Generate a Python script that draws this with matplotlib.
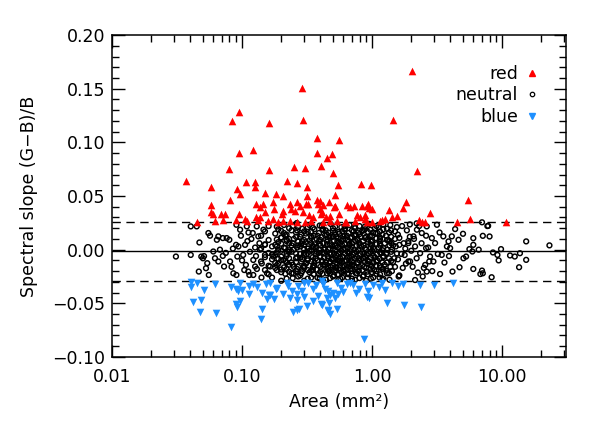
import matplotlib
matplotlib.use("Agg")
import matplotlib.pyplot as plt
from matplotlib.ticker import NullFormatter, MultipleLocator, LogLocator
from matplotlib.lines import Line2D
import numpy as np

plt.rcParams['font.family'] = ['DejaVu Sans']

# ---- data: (area mm^2, spectral slope) ----
red_points = [
    (0.037, 0.064), (0.058, 0.058), (0.084, 0.120), (0.095, 0.128), (0.094, 0.090),
    (0.079, 0.075), (0.121, 0.093), (0.161, 0.118), (0.161, 0.074), (0.107, 0.063),
    (0.126, 0.063), (0.126, 0.058), (0.092, 0.057), (0.097, 0.052), (0.081, 0.046),
    (0.058, 0.042), (0.150, 0.053), (0.183, 0.052), (0.206, 0.050), (0.251, 0.077),
    (0.222, 0.064), (0.266, 0.062), (0.288, 0.151), (0.294, 0.121), (0.380, 0.104),
    (0.560, 0.102), (0.375, 0.090), (0.490, 0.089), (0.450, 0.085), (0.405, 0.078),
    (0.305, 0.076), (2.02, 0.167), (1.44, 0.121), (0.500, 0.071), (2.23, 0.073),
    (0.545, 0.060), (0.823, 0.061), (0.980, 0.060), (0.318, 0.058), (0.318, 0.050),
    (0.520, 0.051), (5.45, 0.046), (1.83, 0.044), (0.375, 0.046), (0.398, 0.045),
    (0.470, 0.044), (0.638, 0.042), (0.677, 0.040), (0.731, 0.041), (0.833, 0.041),
    (0.910, 0.041), (0.953, 0.039), (1.358, 0.037), (1.722, 0.0385), (0.279, 0.041),
    (0.310, 0.043), (0.422, 0.042), (0.513, 0.0395), (1.00, 0.038), (1.549, 0.0316),
    (1.418, 0.030), (2.79, 0.034), (5.67, 0.029), (10.7, 0.026), (4.48, 0.026),
    (2.30, 0.028), (2.41, 0.026), (2.53, 0.0255), (0.353, 0.030), (0.403, 0.033),
    (0.440, 0.030), (0.475, 0.027), (0.541, 0.027), (0.619, 0.0255), (0.740, 0.027),
    (0.809, 0.030), (0.883, 0.0285), (0.995, 0.0255), (1.188, 0.0275), (1.259, 0.0285),
    (0.058, 0.035), (0.060, 0.033), (0.0686, 0.033), (0.074, 0.033), (0.094, 0.033),
    (0.128, 0.0425), (0.144, 0.0425), (0.1375, 0.0395), (0.150, 0.0355), (0.174, 0.0448),
    (0.176, 0.038), (0.202, 0.033), (0.208, 0.036), (0.237, 0.038), (0.256, 0.036),
    (0.2635, 0.044), (0.128, 0.030), (0.1375, 0.030), (0.174, 0.029), (0.0453, 0.026),
    (0.062, 0.027), (0.071, 0.028), (0.090, 0.0275), (0.1055, 0.0285), (0.1087, 0.027),
    (0.1334, 0.028), (0.159, 0.027), (0.190, 0.026), (0.208, 0.027), (0.234, 0.027),
    (0.2635, 0.026), (0.234, 0.0425), (0.324, 0.0425), (0.386, 0.0425), (0.519, 0.041),
    (0.927, 0.0425), (0.2965, 0.0355), (0.398, 0.038), (0.410, 0.035), (0.560, 0.033),
    (0.475, 0.0315), (0.330, 0.032), (0.762, 0.032), (0.883, 0.032), (0.305, 0.026),
    (0.337, 0.027), (0.422, 0.026), (0.631, 0.026), (0.910, 0.026), (1.153, 0.027),
]

blue_points = [
    (0.0403, -0.030), (0.0403, -0.035), (0.0453, -0.031), (0.0513, -0.038), (0.0422, -0.049),
    (0.0484, -0.047), (0.0475, -0.058), (0.0631, -0.059), (0.0823, -0.072), (0.0623, -0.032),
    (0.0823, -0.035), (0.0899, -0.037), (0.0966, -0.031), (0.0937, -0.0386), (0.0995, -0.0377),
    (0.0966, -0.048), (0.0899, -0.051), (0.092, -0.053), (0.1138, -0.034), (0.1138, -0.041),
    (0.122, -0.032), (0.131, -0.035), (0.1418, -0.040), (0.153, -0.032), (0.1565, -0.0457),
    (0.162, -0.0427), (0.176, -0.0464), (0.183, -0.037), (0.1418, -0.055), (0.139, -0.0645),
    (0.164, -0.0307), (0.208, -0.041), (0.227, -0.034), (0.234, -0.045), (0.241, -0.0386),
    (0.2635, -0.0417), (0.271, -0.034), (0.2635, -0.047), (0.288, -0.0386), (0.300, -0.0439),
    (0.315, -0.0527), (0.324, -0.0307), (0.353, -0.048), (0.353, -0.037), (0.386, -0.0433),
    (0.403, -0.051), (0.435, -0.037), (0.448, -0.0448), (0.461, -0.0558), (0.2455, -0.0583),
    (0.2635, -0.0564), (0.276, -0.055), (0.410, -0.0292), (0.422, -0.0323), (0.461, -0.0386),
    (0.504, -0.040), (0.475, -0.0427), (0.519, -0.0448), (0.601, -0.0395), (0.551, -0.0417),
    (0.535, -0.0307), (0.638, -0.0323), (0.718, -0.0333), (0.798, -0.037), (0.883, -0.0323),
    (0.937, -0.0386), (0.910, -0.0439), (0.953, -0.0448), (1.023, -0.0333), (1.138, -0.0345),
    (1.259, -0.0377), (1.418, -0.0307), (1.577, -0.034), (1.741, -0.0323), (2.34, -0.0333),
    (3.01, -0.0333), (4.22, -0.0314), (1.297, -0.0495), (1.771, -0.052), (2.38, -0.0532),
    (0.410, -0.052), (0.470, -0.0495), (0.461, -0.0573), (0.475, -0.0604), (0.541, -0.0551),
    (0.867, -0.083), (0.164, -0.0424), (0.185, -0.036), (0.300, -0.031), (0.37, -0.033),
    (0.58, -0.036), (0.68, -0.031), (0.22, -0.031), (0.75, -0.040), (1.2, -0.031),
]

neutral_points = [
    # sparse left side
    (0.031, -0.0064), (0.0403, 0.0217), (0.0448, 0.0217), (0.0403, -0.0049), (0.047, 0.0067),
    (0.0486, -0.0064), (0.050, -0.008), (0.051, -0.006), (0.0465, -0.0204), (0.0551, 0.0155),
    (0.0567, 0.013), (0.054, -0.0126), (0.0555, -0.0236), (0.0528, -0.0173), (0.064, 0.0092),
    (0.0657, 0.0124), (0.0711, 0.0108), (0.0762, 0.0108), (0.0798, 0.0092), (0.0601, -0.0017),
    (0.0676, 0.0), (0.0711, -0.0058), (0.0619, -0.008), (0.0657, -0.011), (0.0727, -0.0157),
    (0.0809, -0.011), (0.0857, -0.022), (0.0905, -0.0236), (0.092, -0.0064), (0.0937, 0.003),
    (0.0899, 0.0045), (0.1055, 0.0045), (0.0905, 0.0232), (0.0966, 0.0186), (0.1087, 0.0217),
    (0.102, -0.0049), (0.107, -0.0142), (0.1117, -0.0204), (0.1138, -0.0236), (0.122, -0.0236),
    (0.122, -0.0096), (0.126, -0.0157), (0.1208, 0.0155), (0.1297, 0.0217), (0.1334, 0.0124),
    (0.146, 0.0186), (0.150, 0.0045), (0.150, -0.0049), (0.1375, 0.0), (0.1418, -0.0129),
    (0.1555, -0.022), (0.164, -0.0157), (0.174, -0.0064), (0.185, 0.003), (0.185, -0.019),
    (0.208, -0.0096), (0.221, 0.0092), (0.248, -0.022), (0.2635, 0.0248), (0.075, -0.003),
    (0.085, 0.001), (0.100, -0.010), (0.110, 0.008), (0.115, -0.002), (0.130, -0.018),
    (0.118, 0.010), (0.104, -0.019), (0.128, -0.006), (0.136, 0.006), (0.098, 0.013),
    (0.083, -0.016), (0.112, 0.016), (0.141, -0.026), (0.126, 0.002),
    # sparse right side
    (23.1, 0.004), (15.3, 0.0077), (15.3, -0.0095), (13.5, -0.0164), (13.7, -0.0033),
    (12.5, -0.0064), (11.5, -0.0054), (9.8, 0.0005), (9.4, -0.010), (9.2, -0.0049),
    (8.5, -0.0026), (8.3, -0.0257), (8.0, 0.0123), (7.8, 0.0222), (7.1, 0.0129),
    (7.1, -0.022), (6.8, -0.0227), (7.0, -0.0195), (6.6, 0.0), (6.0, 0.0107),
    (6.0, 0.0045), (6.0, -0.018), (5.9, -0.0017), (5.6, 0.0005), (5.28, -0.0064),
    (5.04, -0.008), (5.0, 0.0148), (4.7, -0.0164), (4.62, 0.0092), (4.35, 0.0192),
    (4.15, -0.0204), (4.1, 0.0124), (3.98, 0.0014), (3.87, 0.0077), (3.76, 0.003),
    (3.53, 0.0124), (3.43, -0.0049), (3.33, -0.0227), (3.15, 0.0232), (3.05, 0.0061),
    (2.96, -0.011), (2.79, -0.0064), (2.88, 0.0108), (2.63, 0.0217), (2.6, 0.0014),
    (2.56, -0.0142), (2.63, -0.0204), (2.41, 0.0155), (2.34, -0.0033), (2.25, -0.0213),
    (2.21, 0.0186), (2.14, 0.003), (2.14, -0.0283), (2.08, 0.0124), (1.96, -0.011),
    (1.9, 0.0061), (2.2, -0.008), (2.4, 0.006), (2.5, -0.017), (2.7, 0.002),
    (2.9, -0.020), (3.2, -0.004), (2.3, 0.022), (2.05, -0.016), (2.45, -0.025),
    (3.6, -0.012), (3.9, -0.006), (2.1, 0.010), (2.6, 0.013), (2.75, -0.011),
    (3.3, 0.016), (7.0, 0.0255), (7.7, 0.022), (2.2, 0.0245), (1.95, 0.0235),
    # dense core, first layer
    (0.16, 0.022), (0.21, 0.023), (0.27, 0.021), (0.33, 0.023), (0.41, 0.022), (0.48, 0.024),
    (0.58, 0.021), (0.67, 0.023), (0.80, 0.022), (0.95, 0.024), (1.12, 0.021), (1.38, 0.023), (1.70, 0.022),
    (0.15, 0.017), (0.19, 0.019), (0.24, 0.018), (0.30, 0.017), (0.36, 0.019), (0.44, 0.018),
    (0.52, 0.016), (0.61, 0.019), (0.72, 0.017), (0.86, 0.018), (1.02, 0.016), (1.22, 0.019),
    (1.50, 0.017), (1.85, 0.018),
    (0.14, 0.013), (0.18, 0.015), (0.22, 0.014), (0.26, 0.012), (0.31, 0.015), (0.38, 0.013),
    (0.45, 0.014), (0.50, 0.012), (0.56, 0.015), (0.64, 0.013), (0.75, 0.014), (0.90, 0.012),
    (1.06, 0.015), (1.28, 0.013), (1.58, 0.014), (1.95, 0.012),
    (0.16, 0.009), (0.20, 0.011), (0.25, 0.010), (0.29, 0.008), (0.34, 0.011), (0.40, 0.009),
    (0.47, 0.011), (0.54, 0.008), (0.60, 0.010), (0.68, 0.011), (0.78, 0.009), (0.88, 0.011),
    (1.00, 0.008), (1.15, 0.010), (1.33, 0.009), (1.62, 0.011), (1.90, 0.008),
    (0.15, 0.005), (0.19, 0.007), (0.23, 0.006), (0.27, 0.004), (0.31, 0.007), (0.36, 0.005),
    (0.42, 0.006), (0.49, 0.004), (0.55, 0.007), (0.62, 0.005), (0.70, 0.006), (0.80, 0.004),
    (0.93, 0.007), (1.08, 0.005), (1.25, 0.006), (1.45, 0.004), (1.75, 0.006),
    (0.14, 0.001), (0.17, 0.003), (0.21, 0.002), (0.25, 0.000), (0.28, 0.003), (0.32, 0.001),
    (0.37, 0.002), (0.43, 0.000), (0.50, 0.003), (0.57, 0.001), (0.65, 0.002), (0.73, 0.000),
    (0.83, 0.003), (0.97, 0.001), (1.12, 0.002), (1.30, 0.000), (1.52, 0.003), (1.80, 0.001),
    (0.16, -0.003), (0.20, -0.001), (0.24, -0.002), (0.28, -0.004), (0.33, -0.001), (0.39, -0.003),
    (0.45, -0.002), (0.51, -0.004), (0.58, -0.001), (0.66, -0.003), (0.76, -0.002), (0.87, -0.004),
    (1.00, -0.001), (1.18, -0.003), (1.40, -0.002), (1.68, -0.004), (2.00, -0.001),
    (0.15, -0.007), (0.18, -0.005), (0.22, -0.006), (0.26, -0.008), (0.30, -0.005), (0.35, -0.007),
    (0.40, -0.006), (0.46, -0.008), (0.53, -0.005), (0.60, -0.007), (0.69, -0.006), (0.79, -0.008),
    (0.91, -0.005), (1.05, -0.007), (1.22, -0.006), (1.48, -0.008), (1.78, -0.005),
    (0.14, -0.011), (0.17, -0.009), (0.20, -0.010), (0.24, -0.012), (0.29, -0.009), (0.34, -0.011),
    (0.38, -0.010), (0.44, -0.012), (0.49, -0.009), (0.56, -0.011), (0.63, -0.010), (0.72, -0.012),
    (0.82, -0.009), (0.95, -0.011), (1.10, -0.010), (1.30, -0.012), (1.58, -0.009), (1.90, -0.011),
    (0.16, -0.015), (0.19, -0.013), (0.23, -0.014), (0.27, -0.016), (0.31, -0.013), (0.36, -0.015),
    (0.42, -0.014), (0.48, -0.016), (0.54, -0.013), (0.61, -0.015), (0.70, -0.014), (0.80, -0.016),
    (0.92, -0.013), (1.07, -0.015), (1.25, -0.014), (1.50, -0.016), (1.82, -0.013),
    (0.15, -0.019), (0.18, -0.017), (0.22, -0.018), (0.26, -0.020), (0.30, -0.017), (0.35, -0.019),
    (0.41, -0.018), (0.47, -0.020), (0.53, -0.017), (0.60, -0.019), (0.68, -0.018), (0.78, -0.020),
    (0.90, -0.017), (1.04, -0.019), (1.20, -0.018), (1.42, -0.020), (1.72, -0.017),
    (0.16, -0.023), (0.20, -0.021), (0.24, -0.022), (0.28, -0.024), (0.33, -0.021), (0.39, -0.023),
    (0.45, -0.022), (0.51, -0.024), (0.58, -0.021), (0.66, -0.023), (0.75, -0.022), (0.86, -0.024),
    (0.99, -0.021), (1.15, -0.023), (1.35, -0.022), (1.62, -0.024),
    (0.17, -0.026), (0.22, -0.027), (0.27, -0.025), (0.32, -0.027), (0.38, -0.026), (0.44, -0.028),
    (0.50, -0.025), (0.57, -0.027), (0.65, -0.026), (0.74, -0.028), (0.85, -0.025), (0.98, -0.027),
    (1.14, -0.026), (1.36, -0.028), (1.60, -0.025),
    (0.20, -0.029), (0.30, -0.029), (0.42, -0.029), (0.55, -0.028), (0.70, -0.029), (0.90, -0.029),
    (1.20, -0.028),
    # dense core, second layer
    (0.23, 0.020), (0.29, 0.0195), (0.35, 0.0205), (0.42, 0.019), (0.50, 0.020), (0.62, 0.0195),
    (0.74, 0.020), (0.88, 0.019), (1.05, 0.020), (1.30, 0.0195),
    (0.20, 0.0115), (0.28, 0.012), (0.34, 0.0125), (0.41, 0.0115), (0.47, 0.0125), (0.53, 0.012),
    (0.60, 0.0125), (0.70, 0.0115), (0.82, 0.012), (0.96, 0.0125), (1.15, 0.0115), (1.40, 0.012),
    (0.18, 0.0045), (0.24, 0.004), (0.30, 0.0045), (0.35, 0.0035), (0.40, 0.004), (0.45, 0.0045),
    (0.52, 0.0035), (0.59, 0.004), (0.67, 0.0045), (0.76, 0.0035), (0.86, 0.004), (1.00, 0.0045),
    (1.16, 0.0035), (1.36, 0.004), (1.62, 0.0045),
    (0.19, 0.000), (0.23, -0.0005), (0.30, 0.0005), (0.34, -0.0005), (0.39, 0.000), (0.46, 0.0005),
    (0.52, -0.0005), (0.60, 0.000), (0.68, 0.0005), (0.78, -0.0005), (0.90, 0.000), (1.04, 0.0005),
    (1.20, -0.0005), (1.42, 0.000),
    (0.17, -0.0045), (0.22, -0.004), (0.26, -0.0035), (0.31, -0.0045), (0.37, -0.004), (0.43, -0.0035),
    (0.48, -0.0045), (0.55, -0.004), (0.62, -0.0035), (0.71, -0.0045), (0.81, -0.004), (0.94, -0.0035),
    (1.09, -0.0045), (1.28, -0.004), (1.55, -0.0035),
    (0.19, -0.0085), (0.23, -0.008), (0.28, -0.0075), (0.32, -0.0085), (0.37, -0.008), (0.43, -0.0075),
    (0.50, -0.0085), (0.57, -0.008), (0.65, -0.0075), (0.74, -0.0085), (0.85, -0.008), (0.98, -0.0075),
    (1.14, -0.0085), (1.35, -0.008),
    (0.18, -0.0125), (0.22, -0.012), (0.26, -0.0115), (0.31, -0.0125), (0.36, -0.012), (0.41, -0.0115),
    (0.47, -0.0125), (0.53, -0.012), (0.59, -0.0115), (0.67, -0.0125), (0.77, -0.012), (0.88, -0.0115),
    (1.02, -0.0125), (1.20, -0.012), (1.45, -0.0115),
    (0.21, -0.0165), (0.25, -0.016), (0.30, -0.0155), (0.35, -0.0165), (0.40, -0.016), (0.46, -0.0155),
    (0.52, -0.0165), (0.59, -0.016), (0.67, -0.0155), (0.76, -0.0165), (0.87, -0.016), (1.00, -0.0155),
    (1.17, -0.0165), (1.38, -0.016),
    (0.23, -0.0205), (0.29, -0.020), (0.34, -0.0195), (0.40, -0.0205), (0.46, -0.020), (0.53, -0.0195),
    (0.60, -0.0205), (0.69, -0.020), (0.79, -0.0195), (0.92, -0.0205), (1.08, -0.020), (1.28, -0.0195),
    (0.22, 0.008), (0.27, 0.0075), (0.33, 0.0085), (0.39, 0.008), (0.45, 0.0075), (0.51, 0.0085),
    (0.58, 0.008), (0.66, 0.0075), (0.74, 0.0085), (0.85, 0.008), (0.98, 0.0075), (1.14, 0.0085),
    (1.36, 0.008),
    (0.21, 0.0155), (0.26, 0.016), (0.32, 0.0165), (0.39, 0.0155), (0.46, 0.016), (0.55, 0.0165),
    (0.66, 0.0155), (0.78, 0.016), (0.93, 0.0165), (1.10, 0.0155), (1.35, 0.016),
    # dense core, third layer
    (0.185, 0.0215), (0.245, 0.022), (0.32, 0.021), (0.395, 0.0225), (0.52, 0.0215), (0.615, 0.022),
    (0.73, 0.021), (0.88, 0.0215), (1.08, 0.022), (1.22, 0.0235), (1.55, 0.021),
    (0.2, 0.0175), (0.265, 0.0180), (0.34, 0.0170), (0.415, 0.0185), (0.5, 0.0175), (0.59, 0.0170),
    (0.7, 0.0180), (0.84, 0.0175), (0.97, 0.0185), (1.15, 0.0170), (1.4, 0.0180),
    (0.215, 0.0135), (0.285, 0.0140), (0.355, 0.0130), (0.435, 0.0135), (0.52, 0.0140), (0.615, 0.0130),
    (0.73, 0.0135), (0.8, 0.0145), (1.0, 0.0130), (1.2, 0.0140),
    (0.185, 0.0095), (0.23, 0.0100), (0.3, 0.0090), (0.375, 0.0100), (0.455, 0.0095), (0.545, 0.0105),
    (0.645, 0.0090), (0.765, 0.0100), (0.925, 0.0095), (1.08, 0.0105), (1.3, 0.0090), (1.5, 0.0100),
    (0.2, 0.0055), (0.245, 0.0060), (0.285, 0.0050), (0.34, 0.0060), (0.395, 0.0055), (0.475, 0.0050),
    (0.565, 0.0060), (0.67, 0.0055), (0.8, 0.0060), (0.97, 0.0050), (1.15, 0.0055), (1.4, 0.0060),
    (0.215, 0.0015), (0.265, 0.0020), (0.32, 0.0010), (0.355, 0.0025), (0.435, 0.0015), (0.5, 0.0010),
    (0.545, 0.0020), (0.615, 0.0015), (0.7, 0.0025), (0.88, 0.0015), (1.02, 0.0020), (1.22, 0.0015),
    (0.185, -0.0025), (0.23, -0.0020), (0.3, -0.0030), (0.375, -0.0020), (0.415, -0.0025), (0.475, -0.0030),
    (0.565, -0.0025), (0.645, -0.0020), (0.73, -0.0030), (0.84, -0.0025), (0.97, -0.0020), (1.15, -0.0025),
    (1.3, -0.0030),
    (0.2, -0.0065), (0.265, -0.0070), (0.34, -0.0060), (0.395, -0.0065), (0.455, -0.0060), (0.52, -0.0070),
    (0.59, -0.0065), (0.67, -0.0060), (0.765, -0.0070), (0.88, -0.0065), (1.02, -0.0060), (1.22, -0.0070),
    (0.215, -0.0105), (0.285, -0.0110), (0.32, -0.0100), (0.415, -0.0105), (0.475, -0.0110), (0.545, -0.0100),
    (0.615, -0.0105), (0.7, -0.0110), (0.8, -0.0100), (0.925, -0.0105), (1.08, -0.0110), (1.4, -0.0105),
    (0.185, -0.0145), (0.245, -0.0140), (0.3, -0.0150), (0.355, -0.0145), (0.435, -0.0140), (0.5, -0.0150),
    (0.565, -0.0145), (0.645, -0.0140), (0.73, -0.0150), (0.84, -0.0145), (0.97, -0.0140), (1.15, -0.0150),
    (0.2, -0.0185), (0.265, -0.0180), (0.32, -0.0190), (0.375, -0.0185), (0.455, -0.0180), (0.52, -0.0190),
    (0.615, -0.0185), (0.7, -0.0180), (0.84, -0.0190), (0.97, -0.0185), (1.22, -0.0180),
    (0.215, -0.0225), (0.285, -0.0220), (0.355, -0.0230), (0.415, -0.0225), (0.475, -0.0220), (0.545, -0.0230),
    (0.645, -0.0225), (0.765, -0.0220), (0.925, -0.0230), (1.08, -0.0225), (1.3, -0.0220),
    (0.245, -0.0265), (0.34, -0.0260), (0.395, -0.0270), (0.475, -0.0265), (0.59, -0.0260), (0.7, -0.0270),
    (0.8, -0.0265), (1.02, -0.0260), (1.22, -0.0270),
]

mean_slope = -0.0017
upper_threshold = 0.0255
lower_threshold = -0.0295

x_ticks = [0.01, 0.1, 1.0, 10.0]
x_tick_labels = ["0.01", "0.10", "1.00", "10.00"]
y_ticks = [-0.10, -0.05, 0.00, 0.05, 0.10, 0.15, 0.20]
y_tick_labels = ["\u22120.10", "\u22120.05", "0.00", "0.05", "0.10", "0.15", "0.20"]

red_a, red_s = zip(*red_points)
blue_a, blue_s = zip(*blue_points)
neu_a, neu_s = zip(*neutral_points)

fig = plt.figure(figsize=(5.99, 4.28), dpi=100)
ax = fig.add_axes([0.187, 0.166, 0.758, 0.752])

FS = 12.5
ax.axhline(mean_slope, color='black', lw=1.0, zorder=1)
ax.axhline(upper_threshold, color='black', lw=1.0, ls=(0, (6, 4)), zorder=1)
ax.axhline(lower_threshold, color='black', lw=1.0, ls=(0, (6, 4)), zorder=1)

ax.scatter(neu_a, neu_s, s=12, facecolors='none', edgecolors='black', linewidths=1.05, zorder=2)
ax.scatter(red_a, red_s, s=30, marker='^', color='#ff0000', linewidths=0, zorder=3)
ax.scatter(blue_a, blue_s, s=30, marker='v', color='#1e90ff', linewidths=0, zorder=3)

ax.set_xscale('log')
ax.set_xlim(0.01, 31)
ax.set_ylim(-0.10, 0.20)

ax.set_xticks(x_ticks)
ax.set_xticklabels(x_tick_labels, fontsize=FS)
ax.xaxis.set_minor_locator(LogLocator(base=10, subs=np.arange(2, 10)))
ax.xaxis.set_minor_formatter(NullFormatter())
ax.set_yticks(y_ticks)
ax.set_yticklabels(y_tick_labels, fontsize=FS)
ax.yaxis.set_minor_locator(MultipleLocator(0.01))

ax.tick_params(which='major', direction='in', top=True, right=True, length=9, width=1)
ax.tick_params(which='minor', direction='in', top=True, right=True, length=5, width=1)
ax.tick_params(axis='x', which='major', pad=8)
ax.tick_params(axis='y', which='major', pad=5)
for sp in ax.spines.values():
    sp.set_linewidth(1.1)

ax.set_xlabel("Area (mm\u00b2)", fontsize=FS, labelpad=5)
ax.set_ylabel("Spectral slope (G\u2212B)/B", fontsize=FS, labelpad=10)

handles = [
    Line2D([], [], ls='none', marker='^', color='#ff0000', markersize=5),
    Line2D([], [], ls='none', marker='o', markerfacecolor='none', markeredgecolor='black',
           markersize=3.2, markeredgewidth=0.9),
    Line2D([], [], ls='none', marker='v', color='#1e90ff', markersize=5),
]
ax.legend(handles, ["red", "neutral", "blue"], loc='upper right', bbox_to_anchor=(0.955, 0.935),
          frameon=False, markerfirst=False, fontsize=FS, handlelength=0.6,
          handletextpad=0.5, labelspacing=0.2, borderpad=0)

fig.savefig("out.png", dpi=100)
